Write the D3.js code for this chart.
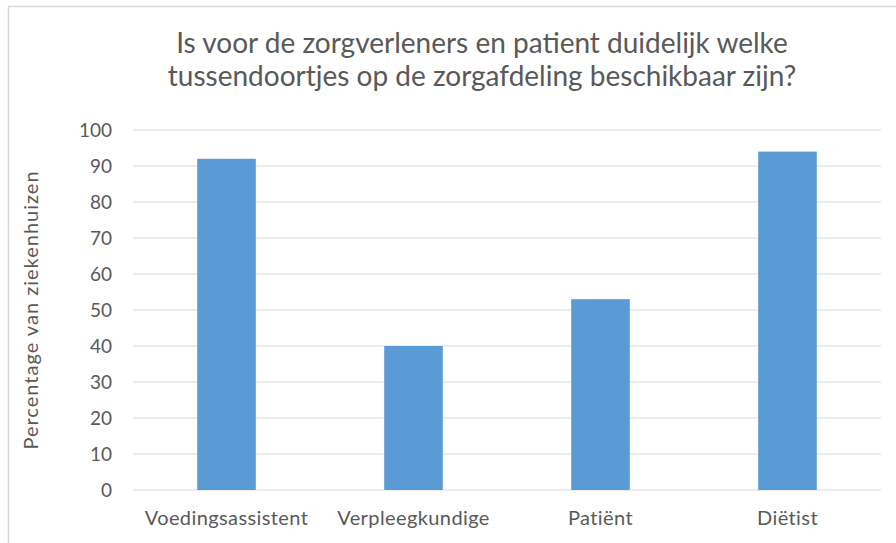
<!DOCTYPE html>
<html>
<head>
<meta charset="utf-8">
<script src="https://cdn.jsdelivr.net/npm/d3@7"></script>
<style>
  body { margin: 0; background: #fff; }
  svg text { font-family: Lato, "Open Sans", sans-serif; fill: #595959; }
</style>
</head>
<body>
<svg id="chart" width="896" height="543"></svg>
<script>
// chart data
var titleLines = ["Is voor de zorgverleners en patient duidelijk welke",
                  "tussendoortjes op de zorgafdeling beschikbaar zijn?"];
var categories = ["Voedingsassistent", "Verpleegkundige", "Patiënt", "Diëtist"];
var values = [92, 40, 53, 94];
var yTicks = [0, 10, 20, 30, 40, 50, 60, 70, 80, 90, 100];
var yLabel = "Percentage van ziekenhuizen";

var svg = d3.select("#chart");
var plot = { left: 133, right: 881, top: 130, bottom: 490 };

// chart border
svg.append("rect")
    .attr("x", 8.5).attr("y", 6.5)
    .attr("width", 900).attr("height", 560)
    .attr("fill", "none")
    .attr("stroke", "#d9d9d9")
    .attr("stroke-width", 1.5);

var x = d3.scaleBand()
    .domain(categories)
    .range([plot.left, plot.right])
    .paddingInner(0.6865)
    .paddingOuter(0.34325);

var y = d3.scaleLinear()
    .domain([0, 100])
    .range([plot.bottom, plot.top]);

// gridlines
svg.append("g")
    .selectAll("line")
    .data(yTicks)
    .enter().append("line")
    .attr("x1", plot.left).attr("x2", plot.right)
    .attr("y1", d => y(d)).attr("y2", d => y(d))
    .attr("stroke", "#d9d9d9")
    .attr("stroke-width", 1);

// y axis labels
var yAxis = d3.axisLeft(y).tickValues(yTicks).tickSize(0).tickPadding(21);
var gy = svg.append("g")
    .attr("transform", "translate(" + plot.left + ",0)")
    .call(yAxis);
gy.select(".domain").remove();
gy.selectAll("text").style("font-size", "19px").attr("dy", "0.35em");

// bars
svg.append("g")
    .selectAll("rect")
    .data(values)
    .enter().append("rect")
    .attr("x", (d, i) => x(categories[i]))
    .attr("width", x.bandwidth())
    .attr("y", d => y(d))
    .attr("height", d => y(0) - y(d))
    .attr("fill", "#5b9bd5");

// x axis labels
var xAxis = d3.axisBottom(x).tickSize(0).tickPadding(21);
var gx = svg.append("g")
    .attr("transform", "translate(0," + plot.bottom + ")")
    .call(xAxis);
gx.select(".domain").remove();
gx.selectAll("text").style("font-size", "20px").style("letter-spacing", "0.4px");

// title
svg.append("g")
    .selectAll("text")
    .data(titleLines)
    .enter().append("text")
    .attr("x", 482)
    .attr("y", (d, i) => 53 + i * 33)
    .attr("text-anchor", "middle")
    .style("font-size", "28px")
    .text(d => d);

// y axis title
svg.append("text")
    .attr("transform", "translate(38," + ((plot.top + plot.bottom) / 2) + ") rotate(-90)")
    .attr("text-anchor", "middle")
    .style("font-size", "20px")
    .style("letter-spacing", "1px")
    .text(yLabel);
</script>
</body>
</html>
